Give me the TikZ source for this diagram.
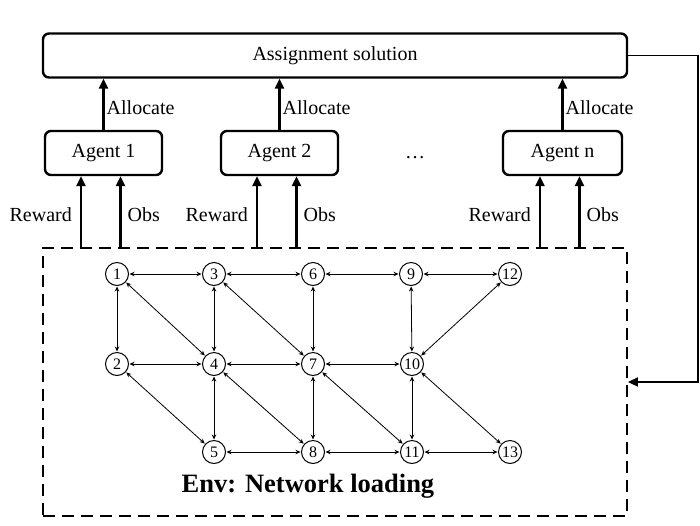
\documentclass[tikz,border=0pt]{standalone}
\usepackage{fontspec}
\setmainfont{Liberation Serif}
\usetikzlibrary{arrows.meta}
\tikzset{
  bigbox/.style={draw, line width=2.4pt, rounded corners=6pt, minimum height=44pt, inner sep=0pt, font=\fontsize{20}{20}\selectfont},
  thickarrow/.style={line width=2.4pt, -{Triangle[length=10pt,width=9pt]}},
  lbl/.style={font=\fontsize{20}{20}\selectfont, inner sep=0pt},
  gnode/.style={draw, circle, line width=1pt, minimum size=23pt, inner sep=0pt, font=\fontsize{16}{16}\selectfont},
  gedge/.style={line width=0.8pt, {Stealth[length=5pt,width=4.5pt]}-{Stealth[length=5pt,width=4.5pt]}, shorten <=0.5pt, shorten >=0.5pt},
  envbox/.style={draw, line width=1.8pt, dash pattern=on 12pt off 7pt, minimum width=584pt, minimum height=268pt, inner sep=0pt},
  fb/.style={line width=1.8pt, -{Triangle[length=10pt,width=9pt]}}
}
\begin{document}
\begin{tikzpicture}[x=1pt,y=-1pt]
\useasboundingbox (0,0) rectangle (700,525);
\node[envbox] (env) at (335,382) {};
\node[bigbox, minimum width=584pt] (asg) at (335,55.5) {Assignment solution};
\node[bigbox, minimum width=117pt] (a1) at (103.5,153) {Agent 1};
\node[bigbox, minimum width=117pt] (a2) at (279.5,153) {Agent 2};
\node[bigbox, minimum width=119pt] (an) at (562.5,153) {Agent n};
\node[lbl] (dots) at (415,158) {\dots};
% allocate arrows
\foreach \a in {a1,a2,an}{
  \draw[thickarrow] (\a.north) -- (\a.north |- asg.south);
  \node[lbl, anchor=west] (al\a) at ([xshift=3pt,yshift=22pt]\a.north) {Allocate};
  \coordinate (r\a) at ([xshift=-22.5pt]\a.south |- env.north);
  \coordinate (o\a) at ([xshift=17pt]\a.south |- env.north);
  \draw[thickarrow] (r\a) -- (r\a |- \a.south);
  \draw[thickarrow] (o\a) -- (o\a |- \a.south);
  \node[lbl, anchor=east] (rl\a) at ([xshift=-9pt,yshift=32pt]r\a) {Reward};
  \node[lbl, anchor=west] (ol\a) at ([xshift=7pt,yshift=32pt]o\a) {Obs};
}
% feedback
\draw[fb] (asg.east) -- ++(70,0) |- (env.east);
% graph
\node[gnode] (n1) at (117,274) {1};
\node[gnode] (n3) at (214,274) {3};
\node[gnode] (n6) at (313,274) {6};
\node[gnode] (n9) at (411,274) {9};
\node[gnode] (n12) at (510,274) {12};
\node[gnode] (n2) at (117,364) {2};
\node[gnode] (n4) at (214,364) {4};
\node[gnode] (n7) at (313,364) {7};
\node[gnode] (n10) at (412,364) {10};
\node[gnode] (n5) at (214,452) {5};
\node[gnode] (n8) at (313,452) {8};
\node[gnode] (n11) at (412,452) {11};
\node[gnode] (n13) at (510,452) {13};
\foreach \u/\v in {1/3,3/6,6/9,9/12,1/2,3/4,6/7,9/10,1/4,3/7,12/10,2/4,4/7,7/10,2/5,4/5,4/8,7/8,7/11,10/11,10/13,5/8,8/11,11/13}
  \draw[gedge] (n\u) -- (n\v);
\node[font=\fontsize{26.5}{26.5}\selectfont\bfseries, inner sep=0pt] (envlbl) at (308,486) {Env: Network loading};
\end{tikzpicture}
\end{document}
